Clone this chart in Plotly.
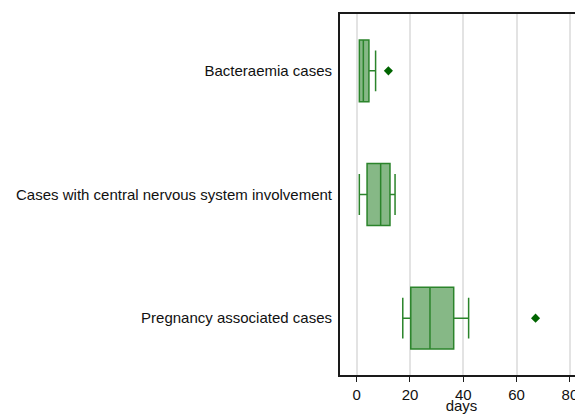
import plotly.graph_objects as go

categories = ["Bacteraemia cases", "Cases with central nervous system involvement", "Pregnancy associated cases"]
lower = [1.0, 1.0, 17.3]
q1 = [1.0, 3.9, 20.3]
median = [2.5, 9.0, 27.5]
q3 = [4.6, 12.5, 36.4]
upper = [7.1, 14.4, 42.0]
outlier_values = [11.9, 67.1]
outlier_cat = [0, 2]
x_ticks = [0, 20, 40, 60, 80]

FONT = "Liberation Sans, Arial, sans-serif"
fig = go.Figure()
for i in range(len(categories)):
    fig.add_trace(go.Box(
        y=[i], q1=[q1[i]], median=[median[i]], q3=[q3[i]],
        lowerfence=[lower[i]], upperfence=[upper[i]],
        orientation="h", width=0.5, whiskerwidth=0.66,
        fillcolor="#86b886", line=dict(color="#2b842b", width=1.5),
        boxpoints=False, showlegend=False, hoverinfo="skip",
    ))
fig.add_trace(go.Scatter(
    x=outlier_values, y=outlier_cat, mode="markers",
    marker=dict(symbol="diamond", size=7, color="#006400"),
    showlegend=False, hoverinfo="skip",
))
fig.update_layout(
    width=575, height=406,
    margin=dict(l=332, r=0, t=6, b=39),
    paper_bgcolor="white", plot_bgcolor="white",
    font=dict(family=FONT, size=15, color="#111111"),
    xaxis=dict(
        range=[-6.25, 84.9], tickvals=x_ticks, ticks="outside", ticklen=5,
        tickcolor="#1a1a1a", showline=True, linecolor="#1a1a1a", linewidth=2,
        mirror=True, showgrid=True, gridcolor="#e3e3e3", gridwidth=1.5,
        zeroline=False, title=dict(text="days", standoff=2, font=dict(size=15)),
        automargin=False,
    ),
    yaxis=dict(
        range=[2.46, -0.46], tickvals=[0, 1, 2], ticktext=categories,
        ticks="", showline=True, linecolor="#1a1a1a", linewidth=2,
        showgrid=False, zeroline=False, ticklabelstandoff=3, automargin=False,
    ),
)
fig.write_html("out.html")
